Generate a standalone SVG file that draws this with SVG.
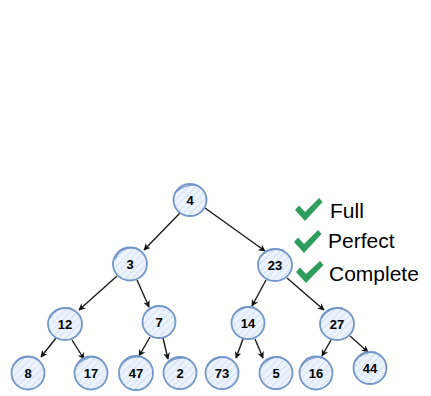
<svg xmlns="http://www.w3.org/2000/svg" width="431" height="396" viewBox="0 0 431 396">
  <defs>
    <pattern id="hatch" patternUnits="userSpaceOnUse" width="5" height="5" patternTransform="rotate(45)">
      <rect width="5" height="5" fill="#edf3fd"/>
      <line x1="0" y1="0" x2="0" y2="5" stroke="#d0e0f8" stroke-width="2"/>
    </pattern>
    <marker id="arrow" viewBox="0 0 10 10" refX="9" refY="5" markerWidth="7" markerHeight="7" orient="auto" markerUnits="userSpaceOnUse">
      <path d="M0,0 L10,5 L0,10 L3,5 Z" fill="#111"/>
    </marker>
  </defs>
  <style>
    .node ellipse { fill: url(#hatch); stroke: #7496c8; stroke-width: 1.8; }
    .node .sk { fill: none; stroke: #7496c8; stroke-width: 1.1; }
    .node text { font-family: "Liberation Sans", Arial, sans-serif; font-size: 13px; font-weight: bold; fill: #000; text-anchor: middle; dominant-baseline: central; }
    .edges line { stroke: #1a1a1a; stroke-width: 1.4; marker-end: url(#arrow); }
    .check { fill: #2e9d5e; }
    .label { font-family: "Liberation Sans", Arial, sans-serif; font-size: 21px; fill: #000; }
  </style>
  <rect width="431" height="396" fill="#fff"/>

  <!-- connectors -->
  <g class="edges">
    <line x1="180" y1="213" x2="144" y2="250"/>
    <line x1="205" y1="208" x2="265" y2="251"/>
    <line x1="117" y1="276" x2="79" y2="310"/>
    <line x1="137" y1="280" x2="149" y2="307"/>
    <line x1="266" y1="280" x2="252" y2="306"/>
    <line x1="287" y1="278" x2="324" y2="310"/>
    <line x1="56" y1="338" x2="41" y2="357"/>
    <line x1="72" y1="340" x2="84" y2="359"/>
    <line x1="150" y1="337" x2="139" y2="356"/>
    <line x1="163" y1="338" x2="168" y2="359"/>
    <line x1="243" y1="339" x2="236" y2="358"/>
    <line x1="255" y1="339" x2="263" y2="358"/>
    <line x1="331" y1="340" x2="322" y2="356"/>
    <line x1="350" y1="336" x2="368" y2="352"/>
  </g>

  <!-- tree nodes -->
  <g id="n4" class="node"><ellipse cx="190" cy="200" rx="16.5" ry="16"/><path class="sk" d="M176,192 Q186,183 199,186"/><text x="190" y="200">4</text></g>
  <g id="n3" class="node"><ellipse cx="130" cy="264" rx="17" ry="16.5"/><path class="sk" d="M115,259 Q121,246 137,248"/><text x="130" y="264">3</text></g>
  <g id="n23" class="node"><ellipse cx="275" cy="265" rx="17" ry="16"/><path class="sk" d="M261,256 Q270,247 284,250"/><text x="275" y="265">23</text></g>
  <g id="n12" class="node"><ellipse cx="65" cy="324" rx="17" ry="16"/><path class="sk" d="M50,318 Q56,306 71,308"/><text x="65" y="324">12</text></g>
  <g id="n7" class="node"><ellipse cx="159" cy="322" rx="16.5" ry="16"/><path class="sk" d="M145,313 Q153,304 166,307"/><text x="159" y="322">7</text></g>
  <g id="n14" class="node"><ellipse cx="248" cy="323" rx="16.5" ry="16"/><path class="sk" d="M233,316 Q240,306 254,307"/><text x="248" y="323">14</text></g>
  <g id="n27" class="node"><ellipse cx="337" cy="324" rx="17" ry="16"/><path class="sk" d="M322,318 Q328,307 343,308"/><text x="337" y="324">27</text></g>
  <g id="n8" class="node"><ellipse cx="28" cy="373" rx="16.5" ry="16.5"/><path class="sk" d="M13,366 Q18,357 30,357"/><text x="28" y="373">8</text></g>
  <g id="n17" class="node"><ellipse cx="91" cy="373" rx="16.5" ry="16.5"/><path class="sk" d="M76,367 Q82,357 97,357"/><text x="91" y="373">17</text></g>
  <g id="n47" class="node"><ellipse cx="136" cy="373" rx="17" ry="17"/><path class="sk" d="M120,367 Q126,356 140,357"/><text x="136" y="373">47</text></g>
  <g id="n2" class="node"><ellipse cx="180" cy="373" rx="16.5" ry="16"/><path class="sk" d="M166,365 Q173,357 186,358"/><text x="180" y="373">2</text></g>
  <g id="n73" class="node"><ellipse cx="222" cy="373" rx="16.5" ry="16"/><path class="sk" d="M207,367 Q212,357 227,357"/><text x="222" y="373">73</text></g>
  <g id="n5" class="node"><ellipse cx="276" cy="373" rx="16.5" ry="16"/><path class="sk" d="M261,367 Q267,357 281,357"/><text x="276" y="373">5</text></g>
  <g id="n16" class="node"><ellipse cx="316" cy="373" rx="16.5" ry="16.5"/><path class="sk" d="M301,367 Q307,357 322,357"/><text x="316" y="373">16</text></g>
  <g id="n44" class="node"><ellipse cx="370" cy="368" rx="16.5" ry="16"/><path class="sk" d="M355,362 Q361,352 376,352"/><text x="370" y="368">44</text></g>

  <!-- legend -->
  <g id="legend">
    <polygon class="check" points="295,210 299,205.5 305,212 319,198 322.5,202 305,221"/>
    <text class="label" x="330" y="218">Full</text>
    <polygon class="check" points="294,242 298,237.5 304,244 318,230 321.5,234 304,253"/>
    <text class="label" x="328" y="248">Perfect</text>
    <polygon class="check" points="296,272 300,267.5 306,274 320,261 323.5,265 306,283"/>
    <text class="label" x="329" y="281">Complete</text>
  </g>
</svg>
